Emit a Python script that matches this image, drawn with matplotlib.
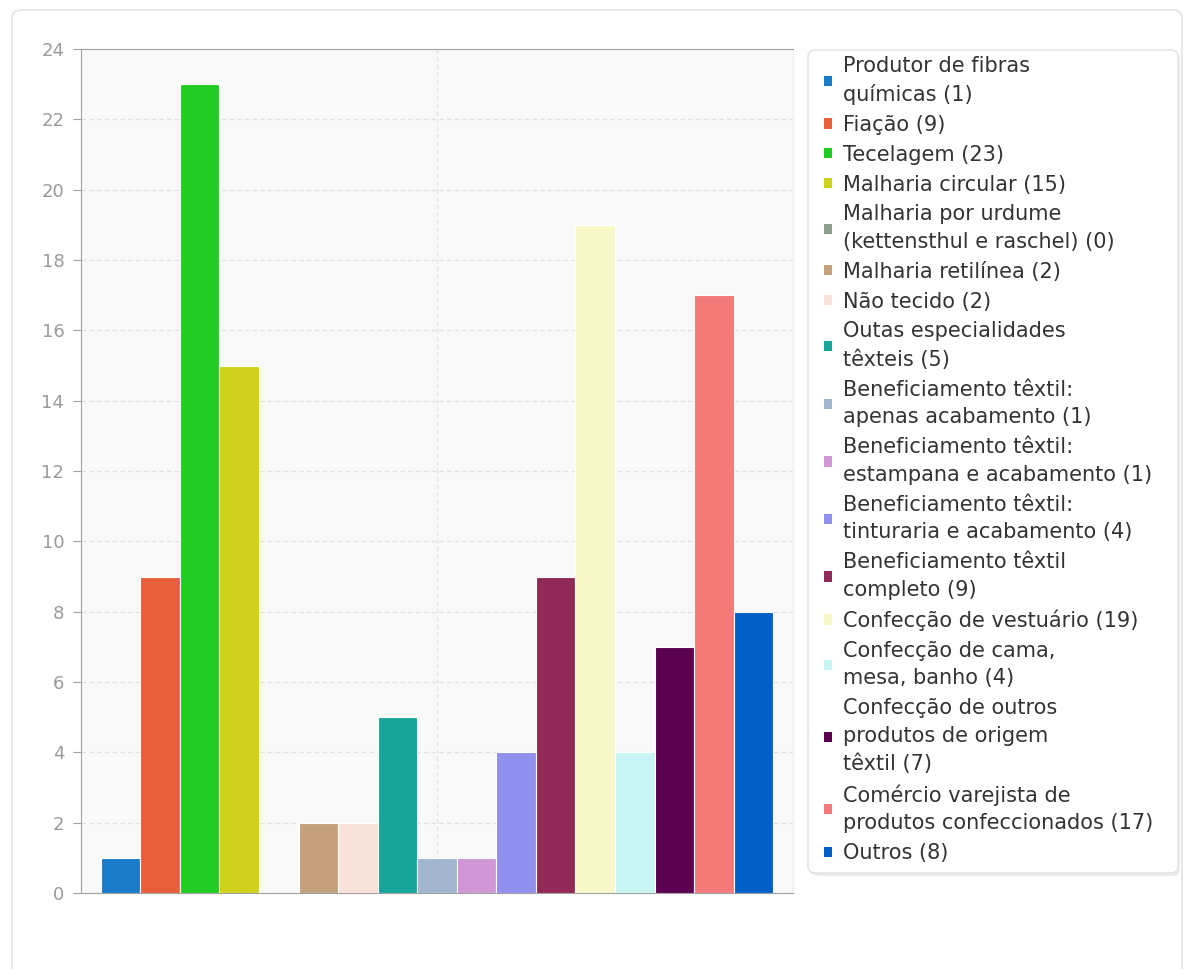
import matplotlib
matplotlib.use("Agg")
import matplotlib.pyplot as plt
from matplotlib.patches import FancyBboxPatch, Patch

categories = [
    "Produtor de fibras\nquímicas",
    "Fiação",
    "Tecelagem",
    "Malharia circular",
    "Malharia por urdume\n(kettensthul e raschel)",
    "Malharia retilínea",
    "Não tecido",
    "Outas especialidades\ntêxteis",
    "Beneficiamento têxtil:\napenas acabamento",
    "Beneficiamento têxtil:\nestampana e acabamento",
    "Beneficiamento têxtil:\ntinturaria e acabamento",
    "Beneficiamento têxtil\ncompleto",
    "Confecção de vestuário",
    "Confecção de cama,\nmesa, banho",
    "Confecção de outros\nprodutos de origem\ntêxtil",
    "Comércio varejista de\nprodutos confeccionados",
    "Outros",
]
counts = [1, 9, 23, 15, 0, 2, 2, 5, 1, 1, 4, 9, 19, 4, 7, 17, 8]
colors = [
    "#1a7bc8", "#e8603a", "#22cc22", "#cfd21c", "#8fa08f", "#c4a17c",
    "#f8e2da", "#17a59a", "#a1b5cf", "#d196d6", "#9090ee", "#922a58",
    "#f8f7c8", "#c8f4f4", "#5c0052", "#f47a7a", "#0060c8",
]
yticks = list(range(0, 25, 2))

W, H = 1194, 969
fig = plt.figure(figsize=(W / 100, H / 100), dpi=100)


def box(x0, y0, x1, y1, r, **kw):
    # rounded rectangle given in pixel coords measured from the top-left
    p = FancyBboxPatch((x0 / W, 1 - y1 / H), (x1 - x0) / W, (y1 - y0) / H,
                       boxstyle=f"round,pad=0,rounding_size={r / W}",
                       transform=fig.transFigure, **kw)
    fig.patches.append(p)
    return p


# outer card
box(12, 10, 1182, 975, 10, facecolor="white", edgecolor="#e4e4e4",
    linewidth=1.2, zorder=-10)

ax = fig.add_axes([81 / W, 1 - 893 / H, (793 - 81) / W, (893 - 49) / H])
ax.set_facecolor("#f9f9f9")

x = list(range(len(counts)))
bars = ax.bar(x, counts, width=1.0, color=colors, edgecolor="white",
              linewidth=0.8, zorder=3)

ax.set_xlim(-1, len(counts))
ax.set_ylim(0, 24)
ax.set_yticks(yticks)
ax.set_xticks([])

ax.yaxis.grid(True, linestyle=(0, (4, 3)), color="#e0e0e0", linewidth=0.8, zorder=1)
ax.axvline((len(counts) - 1) / 2, linestyle=(0, (4, 3)), color="#e0e0e0",
           linewidth=0.8, zorder=1)

for side in ["left", "bottom", "top"]:
    ax.spines[side].set_color("#a0a0a0")
ax.spines["right"].set_color("#eeeeee")
ax.tick_params(axis="y", colors="#a0a0a0", labelcolor="#9a9a9a",
               labelsize=13, length=6, width=0.8, pad=6)

# legend panel with a faint drop shadow
box(810, 53, 1180, 876, 8, facecolor="#ececec", edgecolor="none", zorder=1)
box(808, 50, 1178, 873, 8, facecolor="white", edgecolor="#e2e2e2",
    linewidth=1.0, zorder=2)

handles = [Patch(facecolor=c, edgecolor="none") for c in colors]
labels = [f"{name} ({v})" for name, v in zip(categories, counts)]
leg = fig.legend(handles, labels, loc="upper left",
                 bbox_to_anchor=(824 / W, 1 - 56 / H),
                 fontsize=15, frameon=False,
                 handlelength=0.38, handleheight=0.38, handletextpad=0.53,
                 labelspacing=0.47, borderpad=0, borderaxespad=0)
leg.set_zorder(5)
for t in leg.get_texts():
    t.set_color("#333333")
    t.set_linespacing(1.48)

fig.savefig("out.png", dpi=100)
